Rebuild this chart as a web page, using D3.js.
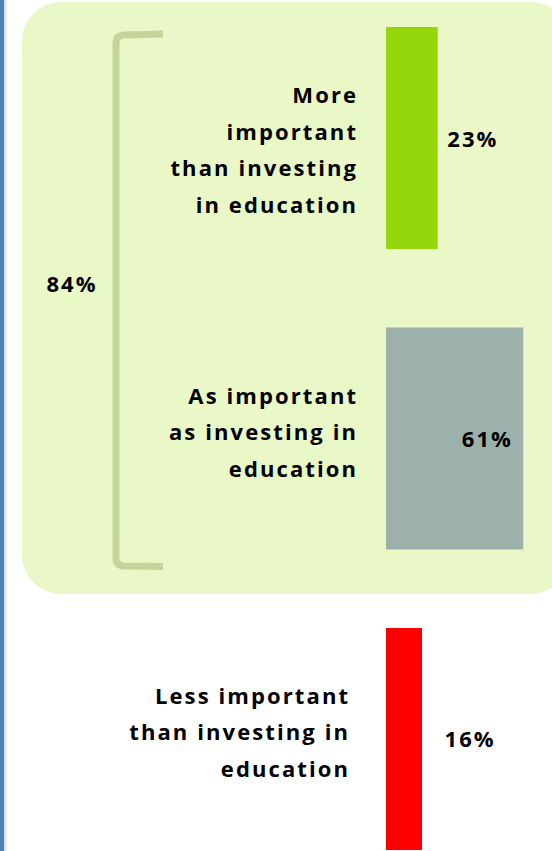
<!DOCTYPE html>
<html>
<head>
<meta charset="utf-8">
<title>Importance compared with investing in education</title>
<style>
  html, body { margin: 0; padding: 0; background: #ffffff; }
  svg { display: block; }
  .lbl { font-family: "Open Sans", Lato, sans-serif; font-weight: 700; font-size: 22px; fill: #000; }
</style>
</head>
<body>
<svg id="chart" width="552" height="851"></svg>
<script src="https://cdn.jsdelivr.net/npm/d3@7"></script>
<script>
// data
var categories = ["More important", "As important", "Less important"];
var values = [23, 61, 16];
var labelLines = [
  ["More", "important", "than investing", "in education"],
  ["As important", "as investing in", "education"],
  ["Less important", "than investing in", "education"]
];
var colors = ["#95d50c", "#9cb0ac", "#ff0000"];
var bracketTotal = "84%";

var W = 552, H = 851;
var svg = d3.select("#chart");
var ls = 2.1; // letter spacing

// width encodes the share, every bar has the same height
var x = d3.scaleLinear().domain([0, 100]).range([386, 611]);
var y = d3.scaleBand().domain(categories).range([27, 850]).paddingInner(0.2612).paddingOuter(0);

// blue rule on the left with a soft shadow
var defs = svg.append("defs");
var g = defs.append("linearGradient").attr("id", "shade").attr("x1", 0).attr("x2", 1);
g.append("stop").attr("offset", 0).attr("stop-color", "#c8c8c8");
g.append("stop").attr("offset", 1).attr("stop-color", "#ffffff");
svg.append("rect").attr("x", 3).attr("y", 0).attr("width", 5).attr("height", H).attr("fill", "url(#shade)");
svg.append("rect").attr("x", 0).attr("y", 0).attr("width", 4).attr("height", H).attr("fill", "#4f81bd");

// light green panel around the first two answers
svg.append("rect")
  .attr("x", 22).attr("y", 2)
  .attr("width", 548).attr("height", 592)
  .attr("rx", 39).attr("ry", 39)
  .attr("fill", "#eaf8c7");

// bracket
var bTop = y(categories[0]) + 7, bBot = y(categories[1]) + y.bandwidth() + 17;
svg.append("path")
  .attr("d", "M163," + bTop + " L124," + (bTop + 1) + " Q116," + (bTop + 1.5) + " 116," + (bTop + 9) +
             " L116," + (bBot - 8) + " Q116," + (bBot - 1) + " 124," + (bBot - 0.5) + " L163," + bBot)
  .attr("fill", "none")
  .attr("stroke", "#c4d59b")
  .attr("stroke-width", 7);

svg.append("text").attr("class", "lbl")
  .attr("x", 71 + ls / 2).attr("y", 292)
  .attr("text-anchor", "middle")
  .attr("letter-spacing", ls)
  .text(bracketTotal);

// bars
svg.selectAll("rect.bar").data(values).enter().append("rect")
  .attr("class", "bar")
  .attr("x", x(0))
  .attr("y", function (d, i) { return y(categories[i]); })
  .attr("width", function (d) { return x(d) - x(0); })
  .attr("height", y.bandwidth())
  .attr("fill", function (d, i) { return colors[i]; });

// category labels, right aligned, top anchored
var lab = svg.selectAll("text.cat").data(labelLines).enter().append("text")
  .attr("class", "lbl cat")
  .attr("text-anchor", "end")
  .attr("letter-spacing", ls);
lab.each(function (lines, i) {
  var cy = y(categories[i]) + y.bandwidth() / 2;
  var right = (i === 2 ? 348 : 356) + ls;
  d3.select(this).selectAll("tspan").data(lines).enter().append("tspan")
    .attr("x", right)
    .attr("y", function (d, j) { return cy - 35 + j * 36.5; })
    .text(function (d) { return d; });
});

// value labels
svg.selectAll("text.val").data(values).enter().append("text")
  .attr("class", "lbl val")
  .attr("text-anchor", "middle")
  .attr("letter-spacing", ls)
  .attr("x", function (d) { return x(0) + 77 + (x(d) - x(0)) * 0.17 + ls / 2; })
  .attr("y", function (d, i) { return y(categories[i]) + y.bandwidth() / 2 + 8.5; })
  .text(function (d) { return d + "%"; });
</script>
</body>
</html>
